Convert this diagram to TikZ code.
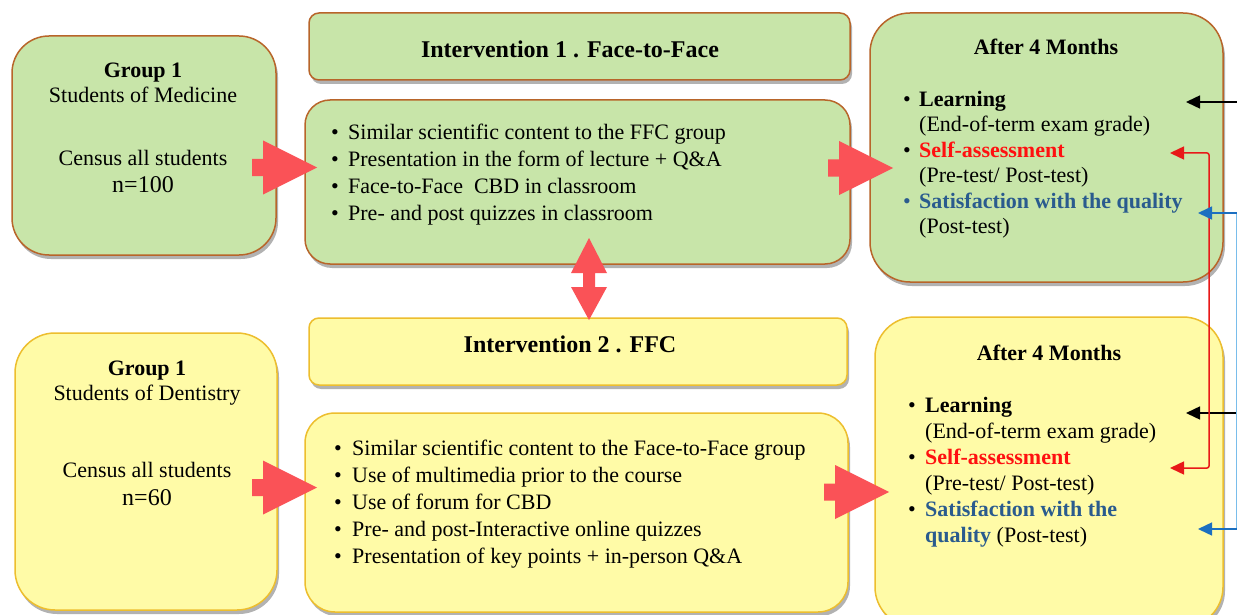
\documentclass[tikz,border=0pt]{standalone}
\usepackage{fontspec}
\setmainfont{Liberation Serif}
\usetikzlibrary{shadows,arrows.meta,calc}
\definecolor{gfill}{HTML}{C8E5A9}
\definecolor{gborder}{HTML}{B8652A}
\definecolor{yfill}{HTML}{FFFBA7}
\definecolor{yborder}{HTML}{EDBE2E}
\definecolor{arrowred}{HTML}{FA5257}
\definecolor{selfred}{HTML}{FF1010}
\definecolor{satblue}{HTML}{2A5B8E}
\definecolor{conred}{HTML}{E81818}
\definecolor{conblue}{HTML}{1C6FC0}
\definecolor{lightblue}{HTML}{79BDEB}
\newcommand\mybul[1]{\makebox[#1][l]{\textbullet}}
\begin{document}
\begin{tikzpicture}[x=1pt,y=-1pt,
  boxbase/.style={line width=1.5pt, inner sep=0pt,
     drop shadow={shadow xshift=2pt,shadow yshift=-4pt,opacity=0.3,fill=black}},
  gbox/.style={boxbase, draw=gborder, fill=gfill},
  ybox/.style={boxbase, draw=yborder, fill=yfill},
  body/.style={inner sep=0pt, font=\fontsize{22pt}{25.5pt}\selectfont},
  big/.style={inner sep=0pt, font=\fontsize{24pt}{28pt}\selectfont},
  bigb/.style={inner sep=0pt, font=\fontsize{24pt}{28pt}\selectfont\bfseries},
  bodyb/.style={inner sep=0pt, font=\fontsize{22pt}{25.5pt}\selectfont\bfseries},
  blk/.style={line width=1.5pt, draw=black, -{Triangle[length=14pt,width=13pt]}},
  redc/.style={line width=1.5pt, draw=conred, {Triangle[length=14pt,width=13pt]}-{Triangle[length=14pt,width=13pt]}, rounded corners=2pt},
  bluec/.style={line width=1.5pt, draw=conblue, {Triangle[length=14pt,width=13pt]}-},
  pics/rblock/.style={code={
    \fill[arrowred] (0,-8.5) -- (11,-8.5) -- (11,-27) -- (65,0) -- (11,27) -- (11,8.5) -- (0,8.5) -- cycle;}}
]
\useasboundingbox (0,0) rectangle (1237,615);
\fill[white] (0,0) rectangle (1237,615);

% boxes
\node[gbox, minimum width=264pt, minimum height=219pt, rounded corners=37pt] (g1) at (144,145.5) {};
\node[gbox, minimum width=541pt, minimum height=67pt, rounded corners=10pt] (i1t) at (579.5,46.5) {};
\node[gbox, minimum width=545pt, minimum height=164pt, rounded corners=25pt] (i1c) at (577.5,182) {};
\node[gbox, minimum width=353pt, minimum height=269pt, rounded corners=40pt] (a1) at (1046.5,147.5) {};
\node[ybox, minimum width=262pt, minimum height=277pt, rounded corners=40pt] (g2) at (146,471.5) {};
\node[ybox, minimum width=538pt, minimum height=67pt, rounded corners=10pt] (i2t) at (578,351.5) {};
\node[ybox, minimum width=543pt, minimum height=199pt, rounded corners=30pt] (i2c) at (576.5,512.5) {};
\node[ybox, minimum width=348pt, minimum height=310pt, rounded corners=40pt] (a2) at (1049,472) {};

% texts group 1
\node[bodyb, anchor=base] (g1a) at (143,78) {Group 1};
\node[body, anchor=base] (g1b) at (143,103) {Students of Medicine};
\node[body, anchor=base] (g1c) at (143,166) {Census all students};
\node[big, anchor=base] (g1d) at (143,193) {n=100};
\node[bodyb, anchor=base] (g2a) at (147,375) {Group 1};
\node[body, anchor=base] (g2b) at (147,400) {Students of Dentistry};
\node[body, anchor=base] (g2c) at (147,477) {Census all students};
\node[big, anchor=base] (g2d) at (147,505) {n=60};

% titles
\node[bigb, anchor=base] (i1tt) at (570,58) {Intervention 1 . Face-to-Face};
\node[bigb, anchor=base] (i2tt) at (570,352) {Intervention 2 . FFC};

% intervention contents (base anchor = last line)
\node[body, anchor=base west, align=left, font=\fontsize{22pt}{26.7pt}\selectfont] (i1ct) at (331,220) {%
\mybul{17pt}Similar scientific content to the FFC group\\
\mybul{17pt}Presentation in the form of lecture + Q\&A\\
\mybul{17pt}Face-to-Face\ \ CBD in classroom\\
\mybul{17pt}Pre- and post quizzes in classroom};
\node[body, anchor=base west, align=left, font=\fontsize{22pt}{27pt}\selectfont] (i2ct) at (334,563) {%
\mybul{18pt}Similar scientific content to the Face-to-Face group\\
\mybul{18pt}Use of multimedia prior to the course\\
\mybul{18pt}Use of forum for CBD\\
\mybul{18pt}Pre- and post-Interactive online quizzes\\
\mybul{18pt}Presentation of key points + in-person Q\&A};

% after boxes
\node[bodyb, anchor=base] (a1t) at (1046,55) {After 4 Months};
\node[body, anchor=base west, align=left] (a1l) at (903,233.5) {%
\mybul{16pt}\textbf{Learning}\\
\hspace*{16pt}(End-of-term exam grade)\\
\mybul{16pt}\textcolor{selfred}{\textbf{Self-assessment}}\\
\hspace*{16pt}(Pre-test/ Post-test)\\
\textcolor{satblue}{\mybul{16pt}\textbf{Satisfaction with the quality}}\\
\hspace*{16pt}(Post-test)};
\node[bodyb, anchor=base] (a2t) at (1049,360) {After 4 Months};
\node[body, anchor=base west, align=left, font=\fontsize{22pt}{26pt}\selectfont] (a2l) at (908,542) {%
\mybul{17pt}\textbf{Learning}\\
\hspace*{17pt}(End-of-term exam grade)\\
\mybul{17pt}\textcolor{selfred}{\textbf{Self-assessment}}\\
\hspace*{17pt}(Pre-test/ Post-test)\\
\mybul{17pt}\textcolor{satblue}{\textbf{Satisfaction with the}}\\
\hspace*{17pt}\textcolor{satblue}{\textbf{quality}} (Post-test)};

% block arrows
\pic at (252,167.5) {rblock};
\pic at (828,168) {rblock};
\pic at (252,487.5) {rblock};
\pic at (824,492) {rblock};
\fill[arrowred] (589,238) -- (607,273) -- (595,273) -- (595,287) -- (607,287) -- (589,320)
  -- (571,287) -- (583,287) -- (583,273) -- (571,273) -- cycle;

% right side connectors
\coordinate (k1s) at (1237,102);
\coordinate (k1e) at (1186,102);
\coordinate (k2s) at (1237,413);
\coordinate (k2e) at (1186,413);
\draw[blk] (k1s) -- (k1e);
\draw[blk] (k2s) -- (k2e);
\coordinate (r1) at (1170,153);
\coordinate (r2) at (1170,468);
\draw[redc] (r1) -- (1209,153) -- (1209,468) -- (r2);
\coordinate (b1) at (1198,213);
\coordinate (b2) at (1198,529);
\draw[line width=1.2pt, lightblue] (1236.4,213) -- (1236.4,529);
\draw[bluec] (b1) -- (1237,213);
\draw[bluec] (b2) -- (1237,529);
\end{tikzpicture}
\end{document}
